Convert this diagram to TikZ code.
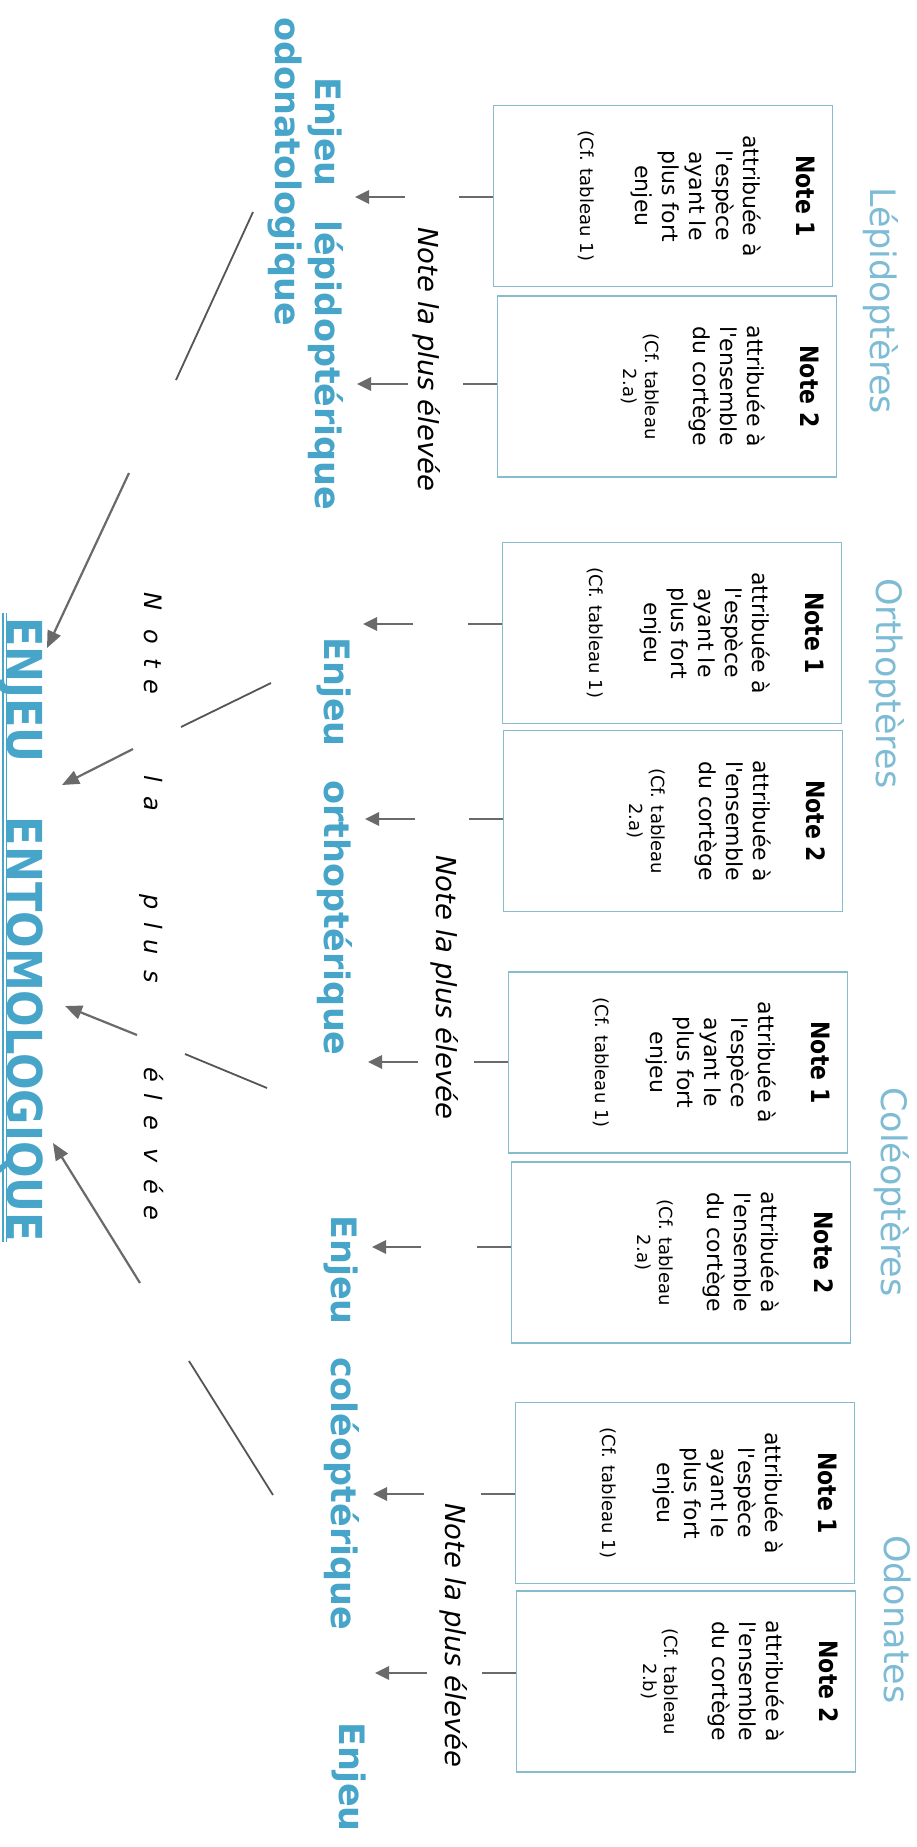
\documentclass[tikz,border=0pt]{standalone}
\usepackage{fontspec}
\setmainfont{DejaVu Sans}[Ligatures=TeXOff]
\usetikzlibrary{arrows.meta}
\definecolor{enjblue}{HTML}{46A5C9}
\definecolor{grpblue}{HTML}{7DBCD4}
\definecolor{boxblue}{HTML}{86BCCD}
\definecolor{arrgray}{HTML}{6A6A6A}
\definecolor{lingray}{HTML}{555555}
\newcommand{\reff}{\fontsize{18}{21}\selectfont}
\newcommand{\mknote}[5]{%
  \node[notebox] (#1) at (#2,#3) {};
  \node[vtext, yscale=1.15, font=\bfseries\fontsize{22}{27}\selectfont] (#1t) at ([xshift=-37pt]#1.east) {#4};
  \node[vtext, font=\fontsize{22}{27}\selectfont] (#1b) at ([xshift=-90pt]#1.east) {\begin{tabular}[t]{@{}c@{}}#5\end{tabular}};
}
\begin{document}
\begin{tikzpicture}[x=1pt,y=-1pt,
  notebox/.style={draw=boxblue, line width=1.4pt, minimum width=339pt, minimum height=181pt, inner sep=0pt, anchor=west},
  vtext/.style={rotate=-90, inner sep=0pt, anchor=base},
  vlabel/.style={rotate=-90, inner sep=0pt, anchor=base west},
  enjeu/.style={vlabel, text=enjblue, font=\bfseries\fontsize{35}{42}\selectfont},
  group/.style={vlabel, text=grpblue, font=\fontsize{35}{42}\selectfont},
  maxnote/.style={vlabel, font=\itshape\fontsize{27.5}{33}\selectfont},
  spaced/.style={vtext, font=\itshape\fontsize{24}{29}\selectfont},
  stub/.style={draw=arrgray, line width=2.8pt},
  garrow/.style={draw=arrgray, line width=2.8pt, -{Triangle[length=14pt,width=13pt]}},
  diag/.style={draw=lingray, line width=1.8pt},
  darrow/.style={draw=arrgray, line width=2.2pt, -{Triangle[length=17pt,width=14pt]}}
]
\useasboundingbox (0,0) rectangle (916,1847);
\fill[white] (0,0) rectangle (916,1847);

% group titles
\node[group] (gL) at (870,187) {Lépidoptères};
\node[group] (gO) at (876,578) {Orthoptères};
\node[group] (gC) at (881,1087) {Coléoptères};
\node[group] (gD) at (884,1535) {Odonates};

% note boxes
\mknote{l1}{493}{196}{Note 1}{attribuée à\\ l'espèce\\ ayant le\\ plus fort\\ enjeu\\[28pt] \reff (Cf. tableau 1)}
\mknote{l2}{497}{386.5}{Note 2}{attribuée à\\ l'ensemble\\ du cortège\\[21pt] \reff (Cf. tableau\\[-5pt] \reff 2.a)}
\mknote{o1}{502}{633}{Note 1}{attribuée à\\ l'espèce\\ ayant le\\ plus fort\\ enjeu\\[28pt] \reff (Cf. tableau 1)}
\mknote{o2}{503}{821}{Note 2}{attribuée à\\ l'ensemble\\ du cortège\\[21pt] \reff (Cf. tableau\\[-5pt] \reff 2.a)}
\mknote{c1}{508}{1062.5}{Note 1}{attribuée à\\ l'espèce\\ ayant le\\ plus fort\\ enjeu\\[28pt] \reff (Cf. tableau 1)}
\mknote{c2}{511}{1252.5}{Note 2}{attribuée à\\ l'ensemble\\ du cortège\\[21pt] \reff (Cf. tableau\\[-5pt] \reff 2.a)}
\mknote{d1}{515}{1493}{Note 1}{attribuée à\\ l'espèce\\ ayant le\\ plus fort\\ enjeu\\[28pt] \reff (Cf. tableau 1)}
\mknote{d2}{516}{1681.5}{Note 2}{attribuée à\\ l'ensemble\\ du cortège\\[21pt] \reff (Cf. tableau\\[-6pt] \reff 2.b)}

% stubs and arrows
\foreach \n/\sy/\ta/\tb in {l1/197/405/355, l2/384/408/357, o1/624/413/363, o2/819/415/365,
                           c1/1062/418/368, c2/1247/421/372, d1/1494/424/373, d2/1673/427/375}{
  \coordinate (\n s) at (0,\sy);
  \coordinate (\n a) at (\ta,\sy);
  \coordinate (\n h) at (\tb,\sy);
  \draw[stub] ([xshift=-34pt]\n.west |- \n s) -- (\n.west |- \n s);
  \draw[garrow] (\n a) -- (\n h);
}

% "Note la plus élevée"
\node[maxnote] (mL) at (418.5,227) {Note la plus élevée};
\node[maxnote] (mO) at (436.5,855) {Note la plus élevée};
\node[maxnote] (mD) at (445.5,1503) {Note la plus élevée};

% Enjeu labels
\node[enjeu] (eL) at (315,77) {Enjeu\hspace{33.5pt}lépidoptérique};
\node[enjeu] (eD2) at (275,17) {odonatologique};
\node[enjeu] (eO) at (324,637) {Enjeu\hspace{33.5pt}orthoptérique};
\node[enjeu] (eC) at (331,1215) {Enjeu\hspace{32.5pt}coléoptérique};
\node[enjeu] (eD1) at (339,1722) {Enjeu};

% spaced text
\foreach \ch/\yy [count=\i] in {N/601, o/637, t/663, e/687, l/779, a/804, p/902, l/926, u/947, s/977, é/1075, l/1097, e/1123, v/1156, é/1187, e/1213}{
  \node[spaced] (sp\i) at (144,\yy) {\ch};
}

% diagonal lines and arrows
\coordinate (d1a) at (253,212);  \coordinate (d1b) at (176,380);
\coordinate (a2a) at (129,473);  \coordinate (a2b) at (47,648);
\coordinate (d3a) at (271,683);  \coordinate (d3b) at (181,727);
\coordinate (a4a) at (133,749);  \coordinate (a4b) at (62,785);
\coordinate (a5a) at (137,1035); \coordinate (a5b) at (65,1006);
\coordinate (d6a) at (267,1088); \coordinate (d6b) at (185,1054);
\coordinate (a7a) at (140,1283); \coordinate (a7b) at (53,1143);
\coordinate (d8a) at (273,1495); \coordinate (d8b) at (189,1361);
\draw[diag] (d1a) -- (d1b);
\draw[diag] (d3a) -- (d3b);
\draw[diag] (d6a) -- (d6b);
\draw[diag] (d8a) -- (d8b);
\draw[darrow] (a2a) -- (a2b);
\draw[darrow] (a4a) -- (a4b);
\draw[darrow] (a5a) -- (a5b);
\draw[darrow] (a7a) -- (a7b);

% title
\node[vlabel, yscale=1.12, text=enjblue, font=\bfseries\fontsize{43}{50}\selectfont] (title) at (8,617) {ENJEU\hspace{54pt}ENTOMOLOGIQUE};
\draw[enjblue, line width=1.3pt] ([xshift=-5pt,yshift=4pt]title.base west) -- ([xshift=-5pt]title.base east);
\draw[enjblue, line width=1.3pt] ([xshift=-1.5pt,yshift=4pt]title.base west) -- ([xshift=-1.5pt]title.base east);
\end{tikzpicture}
\end{document}
